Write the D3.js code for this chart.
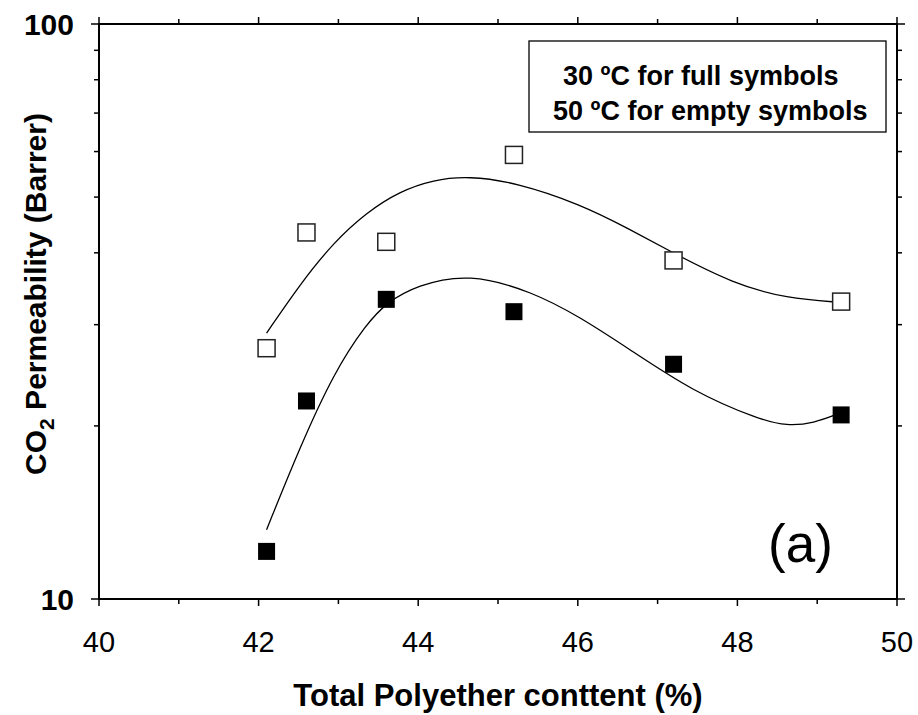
<!DOCTYPE html>
<html>
<head>
<meta charset="utf-8">
<script src="https://cdn.jsdelivr.net/npm/d3@7"></script>
<style>
  body { margin: 0; background: #fff; }
  svg { font-family: "Liberation Sans", Arial, sans-serif; }
</style>
</head>
<body>
<svg width="918" height="715"></svg>
<script>
// measured points
var content = [42.1, 42.6, 43.6, 45.2, 47.2, 49.3];
var perm30 = [12.1, 22.1, 33.2, 31.6, 25.6, 20.9];   // full symbols
var perm50 = [27.3, 43.4, 41.8, 59.2, 38.8, 32.9];   // empty symbols

// fitted trend lines
var fit30x = [42.1, 42.52, 42.94, 43.35, 43.61, 43.98, 44.63, 45.44, 46.03, 46.61, 47.45, 48.28, 48.62, 48.95, 49.3];
var fit30y = [13.2, 18.4, 24.7, 30.1, 32.8, 35.1, 36.9, 34.2, 30.9, 27.4, 22.9, 20.5, 20.0, 20.2, 21.1];
var fit50x = [42.1, 42.52, 42.94, 43.35, 43.77, 44.19, 44.63, 45.23, 46.03, 46.62, 47.19, 47.94, 48.62, 49.3];
var fit50y = [29.0, 35.3, 41.7, 47.0, 51.2, 53.6, 54.4, 53.0, 48.6, 44.2, 40.0, 35.4, 33.3, 32.8];

var xTicks = [40, 42, 44, 46, 48, 50];
var yTicks = [10, 100];
var legendLines = ["30 \u00baC for full symbols", "50 \u00baC for empty symbols"];

var svg = d3.select("svg");
var pLeft = 99, pRight = 897, pTop = 24, pBottom = 599;

var x = d3.scaleLinear().domain([40, 50]).range([pLeft, pRight]);
var y = d3.scaleLog().domain([10, 100]).range([pBottom, pTop]);

var minorX = d3.range(40, 51, 1);
var minorY = d3.range(20, 100, 10);

// frame
svg.append("rect")
    .attr("x", pLeft).attr("y", pTop)
    .attr("width", pRight - pLeft).attr("height", pBottom - pTop)
    .attr("fill", "none").attr("stroke", "#000").attr("stroke-width", 2);

// x ticks bottom & top
var tickG = svg.append("g").attr("stroke", "#000").attr("stroke-width", 1.5);
minorX.forEach(function(v) {
  var len = v % 2 === 0 ? 7 : 5;
  tickG.append("line").attr("x1", x(v)).attr("x2", x(v)).attr("y1", pBottom).attr("y2", pBottom + len);
  tickG.append("line").attr("x1", x(v)).attr("x2", x(v)).attr("y1", pTop).attr("y2", pTop - len);
});
// y ticks left & right
yTicks.concat(minorY).forEach(function(v) {
  var len = (v === 10 || v === 100) ? 8 : 5;
  tickG.append("line").attr("x1", pLeft).attr("x2", pLeft - len).attr("y1", y(v)).attr("y2", y(v));
  tickG.append("line").attr("x1", pRight).attr("x2", pRight + len).attr("y1", y(v)).attr("y2", y(v));
});

svg.append("g").selectAll("text")
  .data(xTicks)
  .enter().append("text")
    .attr("x", function(d) { return x(d); })
    .attr("y", pBottom + 53)
    .attr("text-anchor", "middle")
    .attr("font-size", 29)
    .text(function(d) { return d; });

svg.append("g").selectAll("text")
  .data(yTicks)
  .enter().append("text")
    .attr("x", 74)
    .attr("y", function(d) { return y(d) + 11; })
    .attr("text-anchor", "end")
    .attr("font-size", 30)
    .attr("font-weight", "bold")
    .text(function(d) { return d; });

// axis titles
svg.append("text")
    .attr("x", 498)
    .attr("y", 706)
    .attr("text-anchor", "middle")
    .attr("font-size", 31)
    .attr("font-weight", "bold")
    .text("Total Polyether conttent (%)");

var yt = svg.append("text")
    .attr("transform", "translate(46,294) rotate(-90)")
    .attr("text-anchor", "middle")
    .attr("font-size", 30)
    .attr("font-weight", "bold");
yt.append("tspan").text("CO");
yt.append("tspan").attr("font-size", 21).attr("dy", 8).text("2");
yt.append("tspan").attr("dy", -8).text(" Permeability (Barrer)");

// trend lines
var line = d3.line()
    .x(function(d) { return x(d[0]); })
    .y(function(d) { return y(d[1]); })
    .curve(d3.curveBasis);

svg.append("path")
    .attr("d", line(d3.zip(fit50x, fit50y)))
    .attr("fill", "none").attr("stroke", "#000").attr("stroke-width", 1.3);
svg.append("path")
    .attr("d", line(d3.zip(fit30x, fit30y)))
    .attr("fill", "none").attr("stroke", "#000").attr("stroke-width", 1.3);

// markers
var s = 17;
svg.append("g").selectAll("rect")
  .data(d3.zip(content, perm50))
  .enter().append("rect")
    .attr("x", function(d) { return x(d[0]) - s / 2; })
    .attr("y", function(d) { return y(d[1]) - s / 2; })
    .attr("width", s).attr("height", s)
    .attr("fill", "#fff").attr("stroke", "#222").attr("stroke-width", 1.5);

svg.append("g").selectAll("rect")
  .data(d3.zip(content, perm30))
  .enter().append("rect")
    .attr("x", function(d) { return x(d[0]) - s / 2; })
    .attr("y", function(d) { return y(d[1]) - s / 2; })
    .attr("width", s).attr("height", s)
    .attr("fill", "#000");

// legend box
svg.append("rect")
    .attr("x", 529).attr("y", 41)
    .attr("width", 357).attr("height", 91)
    .attr("fill", "#fff").attr("stroke", "#000").attr("stroke-width", 1.3);
svg.append("g").selectAll("text")
  .data(legendLines)
  .enter().append("text")
    .attr("x", function(d, i) { return i === 0 ? 563 : 553; })
    .attr("y", function(d, i) { return 85 + i * 35; })
    .attr("font-size", 27)
    .attr("font-weight", "bold")
    .text(function(d) { return d; });

// panel label
svg.append("text")
    .attr("x", 768)
    .attr("y", 562)
    .attr("font-size", 53)
    .text("(a)");
</script>
</body>
</html>
